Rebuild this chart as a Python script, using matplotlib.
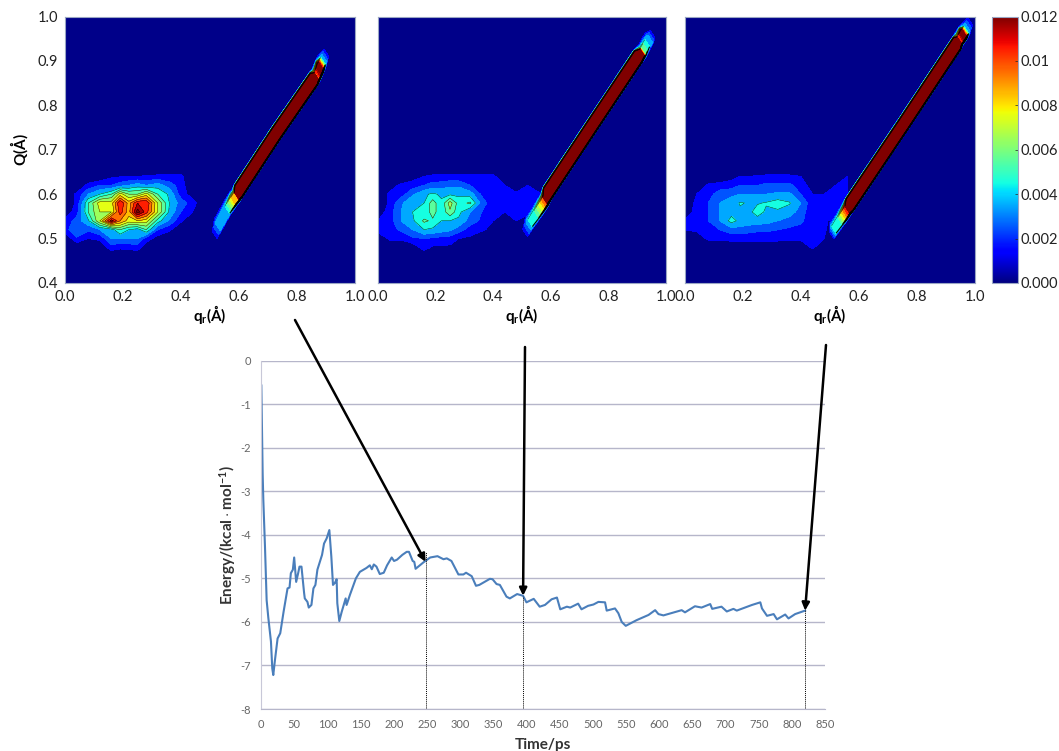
import numpy as np
from matplotlib import pyplot as plt
from matplotlib import cm
from matplotlib.colors import Normalize

plt.rcParams['font.family'] = ['Lato', 'DejaVu Sans']
plt.rcParams['mathtext.fontset'] = 'custom'
plt.rcParams['mathtext.bf'] = 'Lato:bold'
plt.rcParams['mathtext.rm'] = 'Lato'
plt.rcParams['axes.unicode_minus'] = False

# probability maps, values in 1e-3, rows are blob_Q and columns are blob_q
blob_q = [0, .04, .08, .12, .16, .19, .22, .25, .28, .32, .36, .4, .44, .48, .52, .56]
blob_Q = [.46, .48, .5, .52, .54, .56, .58, .6, .62, .64, .66]

blob_1 = [[0, 0, 0, 0, 0, 0, 0, 0, 0, 0, 0, 0, 0, 0, 0, 0],
          [0, 0, 0, .2, 1.5, 1.2, 1.3, 1.5, .3, 0, 0, 0, 0, 0, 0, 0],
          [0, 1.8, 1, 1.2, 3, 3, 3, 3, 1.5, .5, 0, 0, 0, 0, 0, 0],
          [1.5, 3, 2.2, 3, 3.5, 5, 4, 3.5, 5, 2, 1.2, 0, 0, 0, 0, 0],
          [1.2, 2.5, 3.8, 7, 11.5, 9, 7.5, 8, 7.5, 4.5, 2.8, 1.2, 0, 0, 0, 0],
          [.3, 1.5, 5, 7, 7, 10.5, 8.5, 12.5, 10.5, 7, 3.8, 2, 1, 0, 0, 0],
          [0, 1.2, 5, 7.5, 7.5, 11, 8.5, 11, 11, 7, 4, 2.5, 1.5, 0, 0, 0],
          [0, 1.2, 3, 4, 5, 7.5, 6, 6, 7.5, 5, 3.8, 1.5, .5, 0, 0, 0],
          [0, 0, 1.3, 2, 2, 2.5, 3, 3.5, 3, 3.5, 2.5, 1.5, 0, 0, 0, 0],
          [0, 0, 0, 0, .8, .9, 1, 1, 1.1, 1.2, 1.2, 1.2, 0, 0, 0, 0],
          [0, 0, 0, 0, 0, 0, 0, 0, 0, 0, 0, .3, 0, 0, 0, 0]]

blob_2 = [[0, 0, 0, 0, 0, 0, 0, 0, 0, 0, 0, 0, 0, 0, 0, 0],
          [0, 0, 0, .3, 1.5, .8, .8, .8, 0, 0, 0, 0, 0, 0, 0, 0],
          [0, 1.2, 1.2, 1.8, 2, 1.8, 1.6, 1.5, 1, .8, 0, 0, 0, 1, 0, 0],
          [1.5, 1.5, 2.2, 3, 4, 3.8, 3.5, 3.2, 2.5, 1.5, 1.2, .6, 0, .2, 0, 0],
          [1, 1.5, 3, 3.8, 5.2, 4.8, 4, 4, 3.8, 2.5, 1.8, 1, .6, 1, 0, 0],
          [.3, 1.5, 3, 4, 4.2, 5.5, 4.2, 5.8, 4.3, 3, 2, 1.8, 1, 1.5, 1.5, 0],
          [0, 1.2, 2.8, 3.8, 4, 5.5, 4.2, 6.5, 4.5, 5.2, 2.6, 1.2, 1.2, 1.5, 2, 1.5],
          [0, 1.2, 1.5, 2.8, 3.8, 4.2, 3.8, 3.8, 3.8, 3.5, 1.8, 1.2, 1.2, 1.2, 1.2, 1.2],
          [0, .5, 1.2, 1.5, 2, 2.4, 2.5, 2.8, 2.8, 2, 1.5, 1.2, 1, .2, 1, 0],
          [0, 0, 0, .5, 1, 1.2, 1.2, 1.2, 1.2, 1.2, 1.2, 1.2, .3, 0, 0, 0],
          [0, 0, 0, 0, 0, 0, 0, 0, 0, 0, 0, 0, 0, 0, 0, 0]]

blob_3 = [[0, 0, 0, 0, 0, 0, 0, 0, 0, 0, 0, 0, 0, 0, 0, 0],
          [0, 0, 0, 0, .3, .2, .2, .2, .2, .2, .2, .2, 1.2, 0, 0, 0],
          [0, .3, 1.2, 1.2, 1.3, 1.3, 1.3, 1.3, 1.4, 1.3, 1.2, 1.2, 1.2, 1, 0, 0],
          [1, 1.2, 1.6, 2, 2.6, 2.6, 2.4, 2.2, 2.2, 2, 1.8, 1.6, 1.2, 1.2, 0, 0],
          [1.2, 1.5, 2, 3, 4.4, 3.7, 3.6, 3.5, 3.4, 3, 2.6, 2.2, 1.3, 1.5, 0, 0],
          [.2, 1.5, 2, 3, 3.6, 3.8, 3.7, 4.5, 3.8, 3.8, 3.5, 2.5, 1.2, 1.5, 1.5, 0],
          [0, 1.3, 2, 3, 3.4, 4.1, 3.9, 3.9, 4.1, 4.5, 4.1, 3, 1.2, 1.2, 1.5, 1.5],
          [0, 1, 1.5, 2.6, 2.8, 3, 3, 3, 3, 3.2, 3.2, 2, 1, 1, 1.2, 1.5],
          [0, 0, 1.2, 1.3, 1.5, 2, 2, 2, 2.2, 2.2, 2.2, 1.5, .5, .5, 1, 1.2],
          [0, 0, 0, .3, .6, 1, 1, 1.1, 1.2, 1.2, 1.2, 1, .1, 0, .2, 1],
          [0, 0, 0, 0, 0, 0, 0, 0, 0, 0, 0, 0, 0, 0, 0, 0]]

# diagonal ridge, centre line and height along it, height in 1e-3
ridge_q_1 = [.51, .53, .56, .58, .592, .60, .73, .86, .868, .88, .89, .905]
ridge_Q_1 = [.50, .53, .565, .585, .595, .605, .735, .858, .866, .885, .90, .925]
ridge_p_1 = [0, 3.5, 4, 8, 9, 30, 30, 30, 9, 14, 4, 0]

ridge_q_2 = [.505, .528, .55, .568, .58, .59, .75, .905, .921, .935, .945, .958]
ridge_Q_2 = [.505, .535, .555, .5725, .585, .60, .757, .908, .921, .94, .95, .965]
ridge_p_2 = [0, 4, 5, 7.5, 10, 30, 30, 30, 6, 4, 3, 0]

ridge_q_3 = [.503, .513, .535, .547, .56, .57, .76, .94, .947, .96, .97, .988]
ridge_Q_3 = [.503, .52, .54, .5515, .565, .575, .76, .938, .947, .96, .97, .995]
ridge_p_3 = [0, 4, 5, 8, 11, 30, 30, 30, 9, 14, 4, 0]

# energy against time
time_ps = [.5, 2.5, 3.5, 6, 8.5, 11, 15, 17, 18.5, 21, 25, 29, 34, 40, 43, 45, 48, 50, 53, 56,
           58, 61, 65, 66, 70, 72, 76, 79, 82, 85, 92, 95, 99, 103, 106, 108.5, 111.5, 114, 115,
           118, 121.6, 127.6, 129, 134, 143, 149, 159, 164, 167, 170, 174, 179, 185, 190, 197,
           200.5, 205, 213, 219.6, 223, 228.6, 231, 233, 245, 255, 266, 275, 280, 287, 297.5,
           305, 309, 317.6, 324, 329, 345, 349, 355, 360, 370, 375, 386, 395, 400, 411, 420,
           428, 438, 446, 451, 461, 466, 478, 483, 493, 501, 508.5, 518.5, 521, 533.5, 538.6,
           543.6, 549.7, 566, 584, 594, 599, 606.5, 634, 639, 654, 664, 677, 680, 694, 702,
           712, 717, 740, 752.5, 755, 762.6, 772.6, 777.6, 790, 795, 805, 820]
energy = [-.57, -2.6, -3.2, -4.27, -5.5, -5.9, -6.45, -7.07, -7.22, -6.88, -6.38, -6.26, -5.77,
          -5.23, -5.21, -4.88, -4.8, -4.52, -5.08, -4.88, -4.73, -4.73, -5.34, -5.46, -5.54,
          -5.67, -5.61, -5.23, -5.15, -4.8, -4.46, -4.2, -4.08, -3.89, -4.5, -5.15, -5.1, -5.02,
          -5.57, -5.98, -5.77, -5.46, -5.61, -5.38, -5, -4.85, -4.76, -4.7, -4.79, -4.68, -4.73,
          -4.9, -4.87, -4.7, -4.52, -4.6, -4.57, -4.46, -4.39, -4.39, -4.6, -4.62, -4.78, -4.63,
          -4.52, -4.49, -4.56, -4.54, -4.6, -4.91, -4.91, -4.87, -4.95, -5.17, -5.15, -5.01,
          -5.02, -5.13, -5.15, -5.42, -5.46, -5.36, -5.4, -5.55, -5.47, -5.65, -5.61, -5.48,
          -5.44, -5.71, -5.65, -5.67, -5.58, -5.71, -5.63, -5.6, -5.54, -5.55, -5.74, -5.69,
          -5.8, -6, -6.09, -5.96, -5.84, -5.73, -5.82, -5.85, -5.73, -5.78, -5.64, -5.67, -5.59,
          -5.7, -5.65, -5.76, -5.7, -5.74, -5.61, -5.55, -5.69, -5.86, -5.82, -5.94, -5.83,
          -5.92, -5.82, -5.74]

# times picked for the three maps, with the energy at each one
pick_t = [248, 395, 820]
pick_e = [-4.62, -5.4, -5.74]
pick_top = [-4.4, -5.4, -5.7]

map_ticks = [0, .2, .4, .6, .8, 1]
map_yticks = [.4, .5, .6, .7, .8, .9, 1]
bar_ticks = [0, .002, .004, .006, .008, .01, .012]
bar_labels = ['0.000', '0.002', '0.004', '0.006', '0.008', '0.01', '0.012']

W, H = 1059, 751
fig = plt.figure(figsize=(W / 100, H / 100), dpi=100, facecolor='white')


# axes from pixel edges of the picture
def box(left, top, right, bottom):
    return fig.add_axes([left / W, 1 - bottom / H, (right - left) / W, (bottom - top) / H])


levels = np.arange(.001, .0125, .001)
line_levels = levels[levels >= .004]
norm = Normalize(0, .012)
jet = plt.get_cmap('jet').copy()
navy = jet(0.01)


def draw_map(ax, blob, rq, rQ, rp):
    ax.set_facecolor(navy)
    z = np.array(blob) * 1e-3
    ax.contourf(blob_q, blob_Q, z, levels=levels, cmap=jet, norm=norm, extend='max')
    ax.contour(blob_q, blob_Q, z, levels=line_levels, colors='k', linewidths=.3)

    # ridge as a thin strip: soft edge on the upper left, steep black edge on the lower right
    rq, rQ = np.array(rq), np.array(rQ)
    p = np.array(rp) * 1e-3
    off = np.array([-.017, -.008, .008, .012])
    X = np.array([rq + d for d in off])
    Y = np.array([rQ - d for d in off])
    Z = np.array([0 * p, p, p, 0 * p])
    ax.contourf(X, Y, Z, levels=levels, cmap=jet, norm=norm, extend='max')
    ax.contour(X[:2], Y[:2], Z[:2], levels=line_levels, colors='k', linewidths=.25)
    ax.contour(X[2:], Y[2:], Z[2:], levels=line_levels, colors='k', linewidths=.8)

    ax.set_xlim(0, 1)
    ax.set_ylim(.4, 1)
    ax.set_xticks(map_ticks, [f'{t:.1f}' for t in map_ticks])
    ax.tick_params(length=0, labelsize=10.5, pad=5, colors='#222222')
    for s in ax.spines.values():
        s.set_color('#9aa6c4')
        s.set_linewidth(.8)
    ax.set_xlabel(r'$\mathbf{q_r(Å)}$', fontsize=11, labelpad=-1)


ax1 = box(65, 16.5, 355, 283)
draw_map(ax1, blob_1, ridge_q_1, ridge_Q_1, ridge_p_1)
ax1.set_yticks(map_yticks, [f'{t:.1f}' for t in map_yticks])
ax1.set_ylabel(r'$\mathbf{Q(Å)}$', fontsize=11, labelpad=5)

ax2 = box(378, 16.5, 666, 283)
draw_map(ax2, blob_2, ridge_q_2, ridge_Q_2, ridge_p_2)
ax2.set_yticks([])

ax3 = box(685, 16.5, 975, 283)
draw_map(ax3, blob_3, ridge_q_3, ridge_Q_3, ridge_p_3)
ax3.set_yticks([])

# colour bar
cax = box(992, 16.5, 1018, 283)
cb = fig.colorbar(cm.ScalarMappable(norm=norm, cmap=jet), cax=cax)
cb.set_ticks(bar_ticks, labels=bar_labels)
cb.ax.tick_params(length=2, width=.5, labelsize=10.5, pad=2, colors='#222222', direction='in')
cb.outline.set_edgecolor('#9aa6c4')
cb.outline.set_linewidth(.8)

# energy curve
ax = box(261, 360.7, 825, 709)
ax.plot(time_ps, energy, color='#4a7ebb', lw=1.5, solid_joinstyle='round')
ax.set_xlim(0, 850)
ax.set_ylim(-8, 0)
ax.set_xticks(np.arange(0, 851, 50))
ax.set_yticks(np.arange(-8, 1, 1))
ax.grid(axis='y', color='#b6b6ca', lw=1)
ax.set_axisbelow(True)
ax.tick_params(length=0, labelsize=8, colors='#666666', pad=7)
for name in ['top', 'right']:
    ax.spines[name].set_visible(False)
ax.spines['left'].set_color('#c8c8d8')
ax.spines['bottom'].set_color('#b6b6ca')
ax.set_xlabel('Time/ps', fontsize=11, fontweight='bold', color='#333333', labelpad=6)
ax.set_ylabel(r'$\mathbf{Energy/(kcal\cdot mol^{-1})}$', fontsize=11, color='#333333', labelpad=2)

ax.vlines(pick_t, -8, pick_top, color='k', lw=.7, linestyles=(0, (1, 1)))

# arrows from under each map down to the picked time
tails = [(295, 320), (525, 347), (826, 345)]
for t, e, (tx, ty) in zip(pick_t, pick_e, tails):
    ax.annotate('', xy=(t, e), xycoords='data', xytext=(tx / W, 1 - ty / H), textcoords='figure fraction',
                arrowprops=dict(arrowstyle='-|>,head_width=.22,head_length=.45', color='k', lw=1.8,
                                shrinkA=0, shrinkB=0), annotation_clip=False)

fig.savefig('out.png', dpi=100)
